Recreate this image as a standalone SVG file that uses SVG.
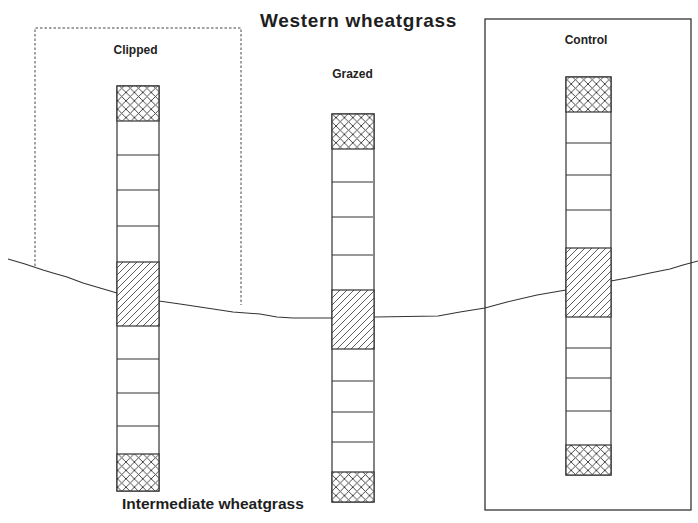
<svg xmlns="http://www.w3.org/2000/svg" width="698" height="523" viewBox="0 0 698 523">
  <style>
    .title { font-family: "Liberation Sans", Arial, sans-serif; font-weight: bold; fill: #1e1e1e; }
    .label { font-family: "Liberation Sans", Arial, sans-serif; font-weight: bold; font-size: 12px; fill: #222; text-anchor: middle; }
    .cell { fill: #fff; stroke: #333; stroke-width: 1.2; }
    .div { stroke: #333; stroke-width: 1.1; fill: none; }
    .cross { fill: url(#crosshatch); stroke: #333; stroke-width: 1.2; }
    .hatch { fill: url(#hatch); stroke: #333; stroke-width: 1.2; }
    .ground { fill: none; stroke: #333; stroke-width: 1.1; stroke-linejoin: round; }
  </style>
  <defs>
    <pattern id="crosshatch" patternUnits="userSpaceOnUse" width="8.4" height="8.4">
      <rect width="8.4" height="8.4" fill="#fff"/>
      <path d="M0,0 L8.4,8.4 M8.4,0 L0,8.4" stroke="#333" stroke-width="0.9"/>
    </pattern>
    <pattern id="hatch" patternUnits="userSpaceOnUse" width="7" height="7">
      <rect width="7" height="7" fill="#fff"/>
      <path d="M-1,8 L8,-1 M-1,1 L1,-1 M6,8 L8,6" stroke="#333" stroke-width="0.8"/>
    </pattern>
  </defs>

  <rect width="698" height="523" fill="#fff"/>

  <!-- titles -->
  <g id="title-top">
    <text class="title" x="260" y="27" font-size="19" letter-spacing="0.7">Western wheatgrass</text>
  </g>
  <g id="title-bottom">
    <text class="title" x="122" y="509" font-size="15.5">Intermediate wheatgrass</text>
  </g>

  <!-- treatment enclosures -->
  <g id="clipped-box">
    <path d="M35,266 V28 H241 V305" fill="none" stroke="#444" stroke-width="1" stroke-dasharray="2.5,2"/>
    <text class="label" x="135.5" y="54">Clipped</text>
  </g>
  <g id="control-box">
    <rect x="485" y="19" width="206" height="491" fill="none" stroke="#333" stroke-width="1.3"/>
    <text class="label" x="586" y="44">Control</text>
  </g>
  <g id="grazed-label">
    <text class="label" x="352.5" y="78">Grazed</text>
  </g>

  <!-- ground surface -->
  <g id="connectors">
    <path class="ground" d="M8,259 L25,264 L43,270 L53,273 L67,277 L83,283 L100,288 L117,293 L159,301 L180,304 L200,307 L233,312 L260,314 L277,317 L293,318 L333,318 L375,317 L438,316 L460,312 L485,308 L507,302 L537,295 L566,290 L611,281 L627,278 L650,273 L670,269 L683,265 L698,261"/>
  </g>

  <!-- clipped column -->
  <g id="column-clipped">
    <rect class="cell" x="117" y="86" width="42" height="405"/>
    <rect class="cross" x="117" y="86" width="42" height="35"/>
    <path class="div" d="M117,155 H159 M117,190 H159 M117,226 H159 M117,359 H159 M117,393 H159 M117,426 H159"/>
    <rect class="hatch" x="117" y="262" width="42" height="64"/>
    <rect class="cross" x="117" y="454" width="42" height="37"/>
  </g>

  <!-- grazed column -->
  <g id="column-grazed">
    <rect class="cell" x="332" y="114" width="42" height="388"/>
    <rect class="cross" x="332" y="114" width="42" height="35"/>
    <path class="div" d="M332,182 H373 M332,217 H373 M332,255 H373 M332,381 H373 M332,412 H373 M332,442 H373"/>
    <rect class="hatch" x="332" y="290" width="42" height="59"/>
    <rect class="cross" x="332" y="472" width="42" height="30"/>
  </g>

  <!-- control column -->
  <g id="column-control">
    <rect class="cell" x="566" y="77" width="45" height="398"/>
    <rect class="cross" x="566" y="77" width="45" height="35"/>
    <path class="div" d="M566,143 H611 M566,175 H611 M566,210 H611 M566,348 H611 M566,378 H611 M566,411 H611"/>
    <rect class="hatch" x="566" y="248" width="45" height="69"/>
    <rect class="cross" x="566" y="445" width="45" height="30"/>
  </g>
</svg>
